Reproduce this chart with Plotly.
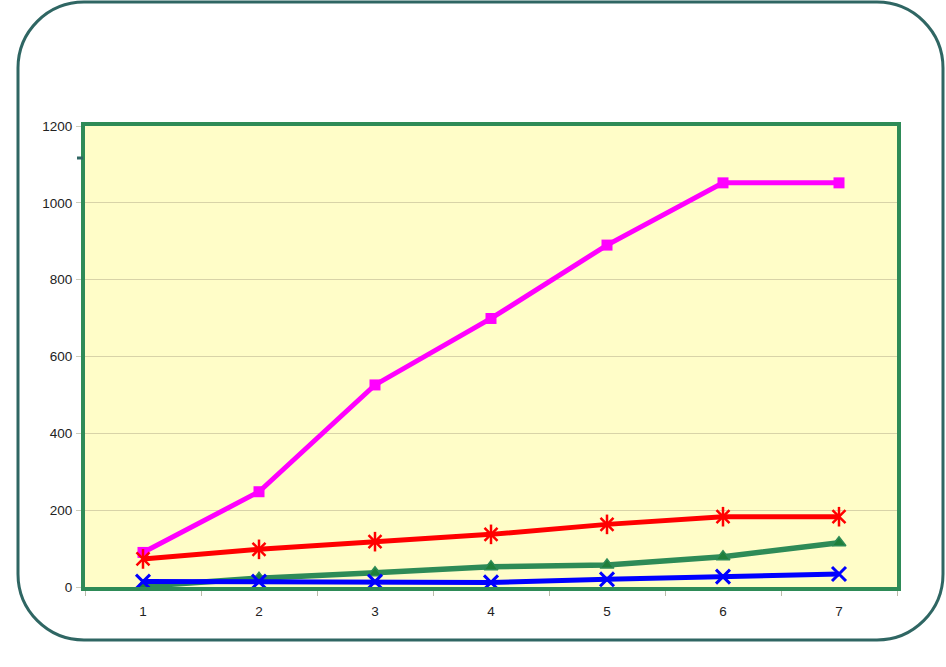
import plotly.graph_objects as go

# ---- data ----
categories = ["1", "2", "3", "4", "5", "6", "7"]
pink_values = [90, 248, 526, 699, 890, 1052, 1052]
red_values = [73, 98, 118, 137, 163, 183, 183]
green_values = [2, 23, 37, 53, 57, 79, 115]
blue_values = [14, 14, 14, 12, 20, 27, 34]
y_ticks = [0, 200, 400, 600, 800, 1000, 1200]

W, H = 946, 667
ML, MR, MT, MB = 85, 49, 126, 80
PW, PH = W - ML - MR, H - MT - MB

def px2paper(x, y):
    return (x - ML) / PW, (H - MB - y) / PH

def rounded_rect_path(l, t, r, b, rad):
    k = 0.5523 * rad
    def P(x, y):
        X, Y = px2paper(x, y)
        return f"{X:.5f},{Y:.5f}"
    d = f"M {P(l + rad, t)} L {P(r - rad, t)} "
    d += f"C {P(r - rad + k, t)} {P(r, t + rad - k)} {P(r, t + rad)} "
    d += f"L {P(r, b - rad)} "
    d += f"C {P(r, b - rad + k)} {P(r - rad + k, b)} {P(r - rad, b)} "
    d += f"L {P(l + rad, b)} "
    d += f"C {P(l + rad - k, b)} {P(l, b - rad + k)} {P(l, b - rad)} "
    d += f"L {P(l, t + rad)} "
    d += f"C {P(l, t + rad - k)} {P(l + rad - k, t)} {P(l + rad, t)} Z"
    return d

fig = go.Figure()

fig.add_trace(go.Scatter(
    x=categories, y=pink_values, mode="lines+markers",
    line=dict(color="#FF00FF", width=5),
    marker=dict(symbol="square", size=11, color="#FF00FF"),
    showlegend=False))
fig.add_trace(go.Scatter(
    x=categories, y=red_values, mode="lines+markers",
    line=dict(color="#FF0000", width=5),
    marker=dict(symbol="x-thin-open", size=13, color="#FF0000",
                line=dict(color="#FF0000", width=2.5)),
    showlegend=False))
fig.add_trace(go.Scatter(
    x=categories, y=red_values, mode="markers",
    marker=dict(symbol="line-ns-open", size=14, color="#FF0000",
                line=dict(color="#FF0000", width=2.5)),
    showlegend=False, hoverinfo="skip"))
fig.add_trace(go.Scatter(
    x=categories, y=green_values, mode="lines+markers",
    line=dict(color="#2E8B57", width=5.5),
    marker=dict(symbol="triangle-up", size=12, color="#1F7F3A",
                line=dict(color="#2E8B57", width=1.5)),
    showlegend=False))
fig.add_trace(go.Scatter(
    x=categories, y=blue_values, mode="lines+markers",
    line=dict(color="#0000FF", width=5),
    marker=dict(symbol="x-thin-open", size=14, color="#0000FF",
                line=dict(color="#0000FF", width=3)),
    showlegend=False))

fig.update_layout(
    width=W, height=H,
    margin=dict(l=ML, r=MR, t=MT, b=MB),
    paper_bgcolor="#FFFFFF",
    plot_bgcolor="#FFFDC8",
    font=dict(family="Liberation Sans, Arial, sans-serif", size=13.5, color="#222222"),
    shapes=[
        dict(type="path", xref="paper", yref="paper",
             path=rounded_rect_path(18, 2, 943, 640, 66),
             line=dict(color="#2F6663", width=3), fillcolor="rgba(0,0,0,0)",
             layer="below"),
        dict(type="line", xref="paper", yref="paper",
             x0=px2paper(77, 158)[0], x1=px2paper(83, 158)[0],
             y0=px2paper(77, 158)[1], y1=px2paper(83, 158)[1],
             line=dict(color="#2F6663", width=3)),
    ],
)

fig.update_xaxes(
    type="category", range=[-0.5, 6.5],
    showgrid=False, zeroline=False,
    showline=True, linecolor="#2E8B57", linewidth=4, mirror=True,
    ticks="outside", tickson="boundaries", ticklen=5, tickcolor="#BBBBAA",
    ticklabelstandoff=9,
)
fig.update_yaxes(
    range=[0, 1200], tickvals=y_ticks,
    showgrid=True, gridcolor="#D8D3A8", gridwidth=1, zeroline=False,
    showline=True, linecolor="#2E8B57", linewidth=4, mirror=True,
    ticks="outside", ticklen=5, tickcolor="#CCCCBB",
    ticklabelstandoff=1,
)

fig.write_html("out.html", config={"displayModeBar": False},
               post_script="document.body.style.margin='0';")
